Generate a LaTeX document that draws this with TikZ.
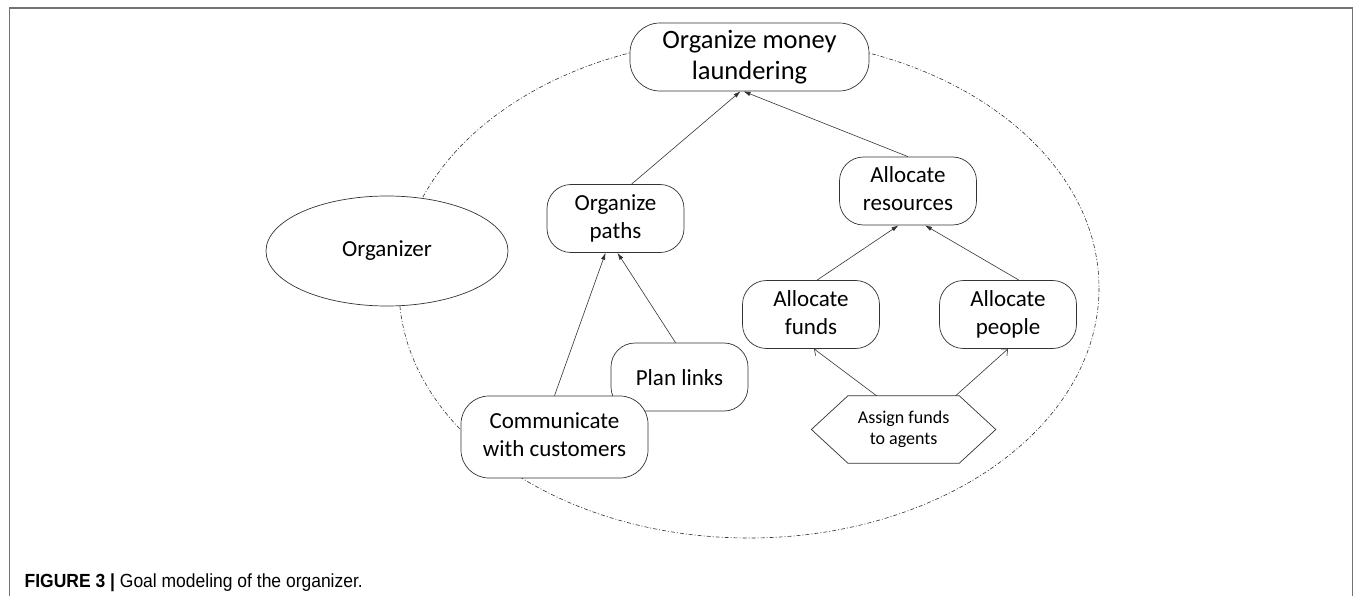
\documentclass[tikz,border=0pt]{standalone}
\usepackage{fontspec}
\setmainfont{Carlito}
\newfontfamily\capfont{Liberation Sans}[FakeStretch=0.92]
\usetikzlibrary{arrows.meta}
\usetikzlibrary{shapes.geometric}
\tikzset{>=latex}
\colorlet{framegray}{black!55}
\colorlet{linegray}{black!80}
\tikzset{
  goal/.style={draw=linegray, line width=0.7pt, fill=white, rounded corners=24pt, align=center,
    minimum width=137pt, minimum height=68pt, inner sep=0pt,
    font=\fontsize{23}{28}\selectfont,
    execute at begin node={\rule{0pt}{22pt}}, execute at end node={\rule[-4.6pt]{0pt}{4.6pt}}},
  link/.style={-{Latex[length=7pt,width=4.5pt]}, line width=0.6pt, linegray},
  openlink/.style={-{Straight Barb[length=5pt,width=9pt]}, line width=0.6pt, linegray},
  boundary/.style={line width=0.6pt, linegray, dash pattern=on 4pt off 2pt on 1pt off 2pt}
}

\begin{document}
\begin{tikzpicture}[x=1pt,y=-1pt]
                \useasboundingbox (0,0) rectangle (1355,596);

                % Frame
                \draw[framegray, line width=1.2pt] (9.4,596) -- (9.4,8) -- (1352.5,8) -- (1352.5,596);

                % Actor boundary
                \draw[boundary] (749,288) ellipse [x radius=350, y radius=250];

                % Goals
                \node[goal, minimum width=239pt, rounded corners=30pt, font=\fontsize{26.5}{31}\selectfont,
                    execute at begin node={\rule{0pt}{27pt}}] (money) at (749.5,57) {Organize money\\laundering};
                \node[goal] (paths) at (615.5,218.5) {Organize\\paths};
                \node[goal] (resources) at (908,191) {Allocate\\resources};
                \node[goal] (funds) at (811,314.5) {Allocate\\funds};
                \node[goal] (people) at (1008,314.5) {Allocate\\people};
                \node[goal] (links) at (679.5,377) {Plan links};
                \node[goal, minimum width=187pt, minimum height=82pt, rounded corners=28pt] (customers) at (554.5,437) {Communicate\\with customers};

                % Actor
                \node[draw=linegray, line width=0.7pt, fill=white, ellipse, minimum width=242pt, minimum height=110pt, inner sep=0pt, font=\fontsize{23}{28}\selectfont] (organizer) at (387,251) {Organizer};

                % Task
                \node[align=center, minimum width=184pt, minimum height=67pt, inner sep=0pt, font=\fontsize{18}{21}\selectfont] (assign) at (903.6,429.5) {Assign funds\\to agents};
                \draw[linegray, line width=0.7pt] (assign.west) -- ([xshift=36.5pt]assign.north west) -- ([xshift=-36.5pt]assign.north east)
                    -- (assign.east) -- ([xshift=-36.5pt]assign.south east) -- ([xshift=36.5pt]assign.south west) -- cycle;

                % Decomposition links
                \draw[link] ([xshift=16pt]paths.north) -- ([xshift=-9pt]money.south);
                \draw[link] (resources.north) -- ([xshift=-6pt]money.south);
                \draw[link] (customers.north) -- ([xshift=-10pt]paths.south);
                \draw[link] ([xshift=-4pt]links.north) -- ([xshift=2pt]paths.south);
                \draw[link] ([xshift=6pt]funds.north) -- ([xshift=-9.5pt]resources.south);
                \draw[link] ([xshift=11pt]people.north) -- ([xshift=17pt]resources.south);
                \draw[openlink] ([xshift=-27pt]assign.north) -- ([xshift=3pt]funds.south);
                \draw[openlink] ([xshift=52pt]assign.north) -- (people.south);

                % Caption
                \node[anchor=base west, inner sep=0pt, font=\capfont\fontsize{19}{23}\selectfont] (caption) at (24.5,587) {\textbf{FIGURE 3 |} Goal modeling of the organizer.};
\end{tikzpicture}
\end{document}
